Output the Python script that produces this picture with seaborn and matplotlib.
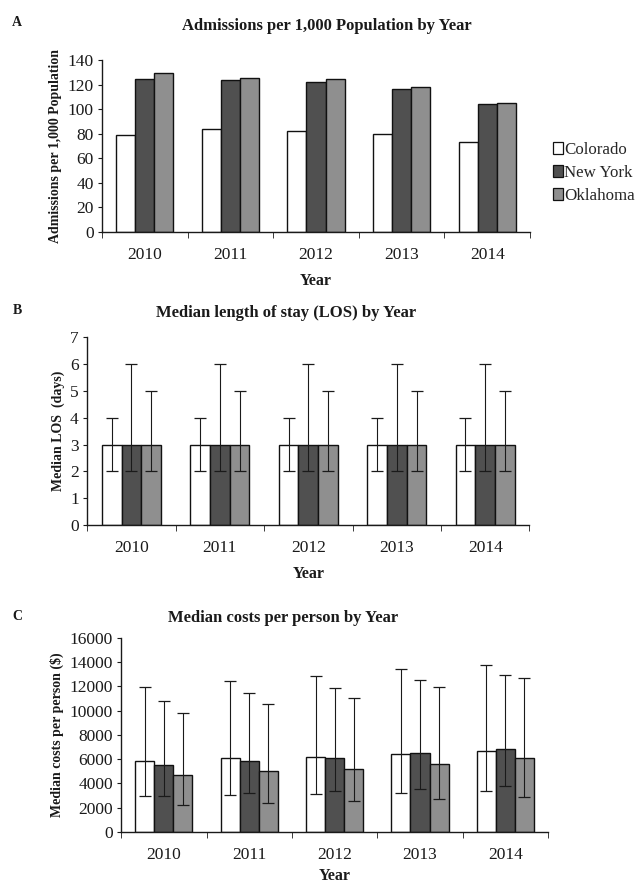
import numpy as np
import pandas as pd
import matplotlib
matplotlib.use("Agg")
import matplotlib.pyplot as plt
import seaborn as sns

# -----------------------------
# Dados
# -----------------------------
years = ["2010", "2011", "2012", "2013", "2014"]
states = ["Colorado", "New York", "Oklahoma"]
state_colors = ["#ffffff", "#505050", "#8f8f8f"]

# Painel A - admissões por 1.000 habitantes
adm_colorado = [79, 84, 82, 80, 73]
adm_newyork = [125, 124, 122, 117, 104]
adm_oklahoma = [130, 126, 125, 118, 105]

# Painel B - mediana LOS (dias) e intervalo
los_colorado = [3, 3, 3, 3, 3]
los_newyork = [3, 3, 3, 3, 3]
los_oklahoma = [3, 3, 3, 3, 3]
los_low_colorado = [2, 2, 2, 2, 2]
los_high_colorado = [4, 4, 4, 4, 4]
los_low_newyork = [2, 2, 2, 2, 2]
los_high_newyork = [6, 6, 6, 6, 6]
los_low_oklahoma = [2, 2, 2, 2, 2]
los_high_oklahoma = [5, 5, 5, 5, 5]

# Painel C - mediana de custos por pessoa ($) e intervalo
cost_colorado = [5880, 6100, 6200, 6420, 6670]
cost_newyork = [5550, 5880, 6120, 6530, 6800]
cost_oklahoma = [4680, 5030, 5220, 5600, 6070]
cost_low_colorado = [2990, 3050, 3100, 3180, 3400]
cost_high_colorado = [11920, 12460, 12870, 13390, 13710]
cost_low_newyork = [2990, 3240, 3370, 3540, 3750]
cost_high_newyork = [10800, 11430, 11860, 12540, 12920]
cost_low_oklahoma = [2260, 2400, 2530, 2750, 2860]
cost_high_oklahoma = [9770, 10560, 11020, 11920, 12710]

FONT = ["Liberation Serif", "DejaVu Serif"]
TXT = "#1a1a1a"

sns.set_style("ticks")
plt.rcParams["font.family"] = FONT
plt.rcParams["axes.edgecolor"] = TXT
plt.rcParams["axes.linewidth"] = 1.0


def long_df(values):
    """Monta DataFrame longo (ano, estado, valor)"""
    rows = []
    for s, vals in zip(states, values):
        for y, v in zip(years, vals):
            rows.append({"year": y, "state": s, "value": v})
    return pd.DataFrame(rows)


def draw_panel(ax, values, ylim, yticks, ylabel, lows=None, highs=None,
               xlabelpad=7):
    df = long_df(values)
    sns.barplot(data=df, x="year", y="value", hue="state", order=years,
                hue_order=states, palette=state_colors, width=0.67, gap=0,
                edgecolor="#111111", linewidth=1.0, errorbar=None,
                legend=False, ax=ax)

    # barras de erro assimétricas (min/max)
    if lows is not None:
        for cont, lo, hi in zip(ax.containers, lows, highs):
            for bar, l, h in zip(cont, lo, hi):
                x = bar.get_x() + bar.get_width() / 2
                y = bar.get_height()
                ax.errorbar(x, y, yerr=[[y - l], [h - y]], fmt="none",
                            ecolor=TXT, elinewidth=0.8, capsize=4,
                            capthick=0.9, zorder=5)

    ax.set_xlim(-0.5, len(years) - 0.5)
    ax.set_ylim(*ylim)
    ax.set_yticks(yticks)
    ax.tick_params(axis="y", labelsize=12.5, length=3, pad=3, colors=TXT)
    ax.tick_params(axis="x", which="major", labelsize=12.5, length=0, pad=11,
                   colors=TXT)
    ax.set_xticks(np.arange(-0.5, len(years)), minor=True)
    ax.tick_params(axis="x", which="minor", length=4, color=TXT)
    ax.set_xlabel("Year", fontsize=11.5, fontweight="bold",
                  labelpad=xlabelpad, color=TXT)
    ax.set_ylabel(ylabel, fontsize=10, fontweight="bold", labelpad=4,
                  color=TXT)
    sns.despine(ax=ax)


fig = plt.figure(figsize=(6.41, 8.88), dpi=100)

# -----------------------------
# Painel A
# -----------------------------
axA = fig.add_axes([0.159, 0.739, 0.668, 0.193])
draw_panel(axA, [adm_colorado, adm_newyork, adm_oklahoma], (0, 140),
           range(0, 141, 20), "Admissions per 1,000 Population")
handles = [plt.Rectangle((0, 0), 1, 1, facecolor=c, edgecolor="#111111",
                         linewidth=0.9) for c in state_colors]
fig.legend(handles, states, loc="center left", bbox_to_anchor=(0.862, 0.805),
           frameon=False, fontsize=12.2, handlelength=0.6, handleheight=0.7,
           handletextpad=0.1, labelspacing=0.42, borderaxespad=0,
           borderpad=0)

# -----------------------------
# Painel B
# -----------------------------
axB = fig.add_axes([0.136, 0.409, 0.690, 0.211])
draw_panel(axB, [los_colorado, los_newyork, los_oklahoma], (0, 7),
           range(0, 8), "Median LOS  (days)",
           lows=[los_low_colorado, los_low_newyork, los_low_oklahoma],
           highs=[los_high_colorado, los_high_newyork, los_high_oklahoma])

# -----------------------------
# Painel C
# -----------------------------
axC = fig.add_axes([0.189, 0.063, 0.666, 0.219])
draw_panel(axC, [cost_colorado, cost_newyork, cost_oklahoma], (0, 16000),
           range(0, 16001, 2000), "Median costs per person ($)",
           lows=[cost_low_colorado, cost_low_newyork, cost_low_oklahoma],
           highs=[cost_high_colorado, cost_high_newyork, cost_high_oklahoma],
           xlabelpad=3)

# títulos e letras dos painéis
title_kw = dict(fontsize=12, fontweight="bold", color=TXT, ha="center",
                va="center")
fig.text(327 / 641, 1 - 26 / 888, "Admissions per 1,000 Population by Year",
         **title_kw)
fig.text(286 / 641, 1 - 313 / 888, "Median length of stay (LOS) by Year",
         **title_kw)
fig.text(283 / 641, 1 - 618 / 888, "Median costs per person by Year",
         **title_kw)
for lbl, yy in [("A", 22), ("B", 311), ("C", 617)]:
    fig.text(17 / 641, 1 - yy / 888, lbl, fontsize=10, fontweight="bold",
             color=TXT, ha="center", va="center")

fig.savefig("out.png", dpi=100)
